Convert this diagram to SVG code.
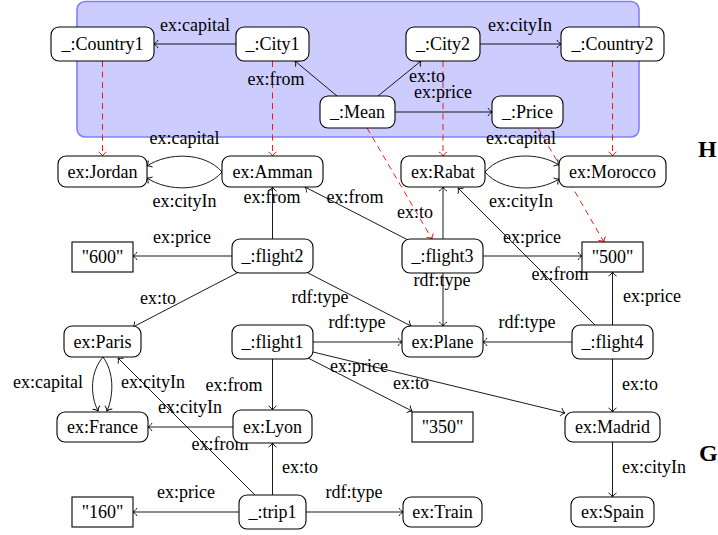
<svg xmlns="http://www.w3.org/2000/svg" width="718" height="535" viewBox="0 0 718 535">
  <style>
    .node rect { fill: #fff; stroke: #000; stroke-width: 1.1; }
    .node text, .lbl { font-family: "Liberation Serif", "Times New Roman", serif; font-size: 18px; fill: #000; text-anchor: middle; }
    .edge { fill: none; stroke: #000; stroke-width: 0.9; marker-end: url(#to); }
    .map { fill: none; stroke: #ff0000; stroke-width: 0.9; stroke-dasharray: 6 4.5; marker-end: url(#to-red); }
    .tag { font-family: "Liberation Serif", "Times New Roman", serif; font-size: 24px; font-weight: bold; fill: #000; }
  </style>
  <defs>
    <marker id="to" viewBox="-6 -6 8 12" refX="0" refY="0" markerWidth="8" markerHeight="12" markerUnits="userSpaceOnUse" orient="auto" overflow="visible">
      <path d="M-4,-4 C-3,-2 -1,-0.5 0,0 C-1,0.5 -3,2 -4,4" fill="none" stroke="#000" stroke-width="0.9"/>
    </marker>
    <marker id="to-red" viewBox="-6 -6 8 12" refX="0" refY="0" markerWidth="8" markerHeight="12" markerUnits="userSpaceOnUse" orient="auto" overflow="visible">
      <path d="M-4,-4 C-3,-2 -1,-0.5 0,0 C-1,0.5 -3,2 -4,4" fill="none" stroke="#ff0000" stroke-width="0.9"/>
    </marker>
  </defs>

  <!-- query pattern area H -->
  <rect id="pattern-area" x="77" y="1.5" width="562" height="135.5" rx="8" fill="#ccccff" stroke="#8080ff" stroke-width="1.6"/>
  <text class="tag" x="698" y="157">H</text>
  <text class="tag" x="699" y="461">G</text>

  <!-- connectors -->
  <g id="connectors">
    <!-- pattern edges -->
    <path class="edge" d="M236,44 L154,44"/>
    <path class="edge" d="M480,44 L561,44"/>
    <path class="edge" d="M337,96 L295,61"/>
    <path class="edge" d="M378,96 L421,61"/>
    <path class="edge" d="M395,112 L492,112"/>

    <!-- homomorphism mapping -->
    <path class="map" d="M102.5,61 L102.5,156"/>
    <path class="map" d="M272.5,61 L272.5,156"/>
    <path class="map" d="M443,61 L443,156"/>
    <path class="map" d="M612.5,61 L612.5,156"/>
    <path class="map" d="M367,128 L432,239"/>
    <path class="map" d="M538,128 L604,242"/>

    <!-- data graph edges -->
    <path class="edge" d="M222,172 C205,152 168,152 147,166"/>
    <path class="edge" d="M222,172 C205,192 168,192 147,178"/>
    <path class="edge" d="M485,172 C502,152 539,152 559,165"/>
    <path class="edge" d="M485,172 C502,192 539,192 559,179"/>
    <path class="edge" d="M272.5,239 L272.5,187"/>
    <path class="edge" d="M408,240 L305,187"/>
    <path class="edge" d="M443,239 L443,187"/>
    <path class="edge" d="M595,325 L458,188"/>
    <path class="edge" d="M483,256 L582,256"/>
    <path class="edge" d="M443,273 L443,326"/>
    <path class="edge" d="M612.5,325 L612.5,272"/>
    <path class="edge" d="M572,342 L483,342"/>
    <path class="edge" d="M612.5,359 L612.5,412"/>
    <path class="edge" d="M612.5,442 L612.5,497"/>
    <path class="edge" d="M232,256 L133,256"/>
    <path class="edge" d="M237,273 L133,327"/>
    <path class="edge" d="M308,273 L411,326"/>
    <path class="edge" d="M313,342 L402,342"/>
    <path class="edge" d="M313,352 L565,413"/>
    <path class="edge" d="M308,358 L412,411"/>
    <path class="edge" d="M272.5,359 L272.5,410"/>
    <path class="edge" d="M233,427 L148,427"/>
    <path class="edge" d="M103,357 C90,372 90,395 98,411"/>
    <path class="edge" d="M103,357 C114,372 114,395 107,411"/>
    <path class="edge" d="M255,495 L118,358"/>
    <path class="edge" d="M272.5,495 L272.5,443"/>
    <path class="edge" d="M239,512 L133,512"/>
    <path class="edge" d="M306,512 L403,512"/>

    <!-- edge labels -->
    <text class="lbl" x="195" y="31">ex:capital</text>
    <text class="lbl" x="520" y="31">ex:cityIn</text>
    <text class="lbl" x="276" y="85">ex:from</text>
    <text class="lbl" x="427" y="82">ex:to</text>
    <text class="lbl" x="443" y="98">ex:price</text>
    <text class="lbl" x="184.5" y="144">ex:capital</text>
    <text class="lbl" x="184.5" y="207">ex:cityIn</text>
    <text class="lbl" x="521" y="144">ex:capital</text>
    <text class="lbl" x="521" y="207">ex:cityIn</text>
    <text class="lbl" x="272" y="203">ex:from</text>
    <text class="lbl" x="355" y="203">ex:from</text>
    <text class="lbl" x="415" y="218">ex:to</text>
    <text class="lbl" x="182" y="243">ex:price</text>
    <text class="lbl" x="532" y="243">ex:price</text>
    <text class="lbl" x="560" y="280">ex:from</text>
    <text class="lbl" x="442" y="286">rdf:type</text>
    <text class="lbl" x="652" y="302">ex:price</text>
    <text class="lbl" x="158" y="304">ex:to</text>
    <text class="lbl" x="320" y="303">rdf:type</text>
    <text class="lbl" x="357" y="328">rdf:type</text>
    <text class="lbl" x="527" y="328">rdf:type</text>
    <text class="lbl" x="48" y="388">ex:capital</text>
    <text class="lbl" x="153" y="388">ex:cityIn</text>
    <text class="lbl" x="359" y="372">ex:price</text>
    <text class="lbl" x="411" y="389">ex:to</text>
    <text class="lbl" x="234" y="391">ex:from</text>
    <text class="lbl" x="640" y="390">ex:to</text>
    <text class="lbl" x="190" y="413">ex:cityIn</text>
    <text class="lbl" x="220" y="450">ex:from</text>
    <text class="lbl" x="300" y="473">ex:to</text>
    <text class="lbl" x="654" y="473">ex:cityIn</text>
    <text class="lbl" x="186" y="498">ex:price</text>
    <text class="lbl" x="354" y="498">rdf:type</text>
  </g>

  <!-- pattern nodes -->
  <g id="country1" class="node"><rect x="51" y="27" width="103" height="34" rx="8"/><text x="102.5" y="50">_:Country1</text></g>
  <g id="city1" class="node"><rect x="236" y="27" width="73" height="34" rx="8"/><text x="272.5" y="50">_:City1</text></g>
  <g id="city2" class="node"><rect x="406" y="27" width="74" height="34" rx="8"/><text x="443" y="50">_:City2</text></g>
  <g id="country2" class="node"><rect x="561" y="27" width="103" height="34" rx="8"/><text x="612.5" y="50">_:Country2</text></g>
  <g id="mean" class="node"><rect x="320" y="96" width="75" height="32" rx="8"/><text x="357.5" y="118">_:Mean</text></g>
  <g id="price" class="node"><rect x="492" y="96" width="71" height="32" rx="8"/><text x="527.5" y="118">_:Price</text></g>

  <!-- data graph nodes -->
  <g id="jordan" class="node"><rect x="58" y="156" width="89" height="31" rx="8"/><text x="102.5" y="177.5">ex:Jordan</text></g>
  <g id="amman" class="node"><rect x="222" y="156" width="101" height="31" rx="8"/><text x="272.5" y="177.5">ex:Amman</text></g>
  <g id="rabat" class="node"><rect x="401" y="156" width="84" height="31" rx="8"/><text x="443" y="177.5">ex:Rabat</text></g>
  <g id="morocco" class="node"><rect x="559" y="156" width="107" height="31" rx="8"/><text x="612.5" y="177.5">ex:Morocco</text></g>

  <g id="lit600" class="node"><rect x="72" y="242" width="61" height="30" rx="0"/><text x="102.5" y="263">"600"</text></g>
  <g id="flight2" class="node"><rect x="232" y="239" width="81" height="34" rx="8"/><text x="272.5" y="262">_:flight2</text></g>
  <g id="flight3" class="node"><rect x="402" y="239" width="81" height="34" rx="8"/><text x="442.5" y="262">_:flight3</text></g>
  <g id="lit500" class="node"><rect x="582" y="242" width="61" height="30" rx="0"/><text x="612.5" y="263">"500"</text></g>

  <g id="paris" class="node"><rect x="64" y="326" width="77" height="31" rx="8"/><text x="102.5" y="347.5">ex:Paris</text></g>
  <g id="flight1" class="node"><rect x="232" y="325" width="81" height="34" rx="8"/><text x="272.5" y="348">_:flight1</text></g>
  <g id="plane" class="node"><rect x="402" y="326" width="81" height="31" rx="8"/><text x="442.5" y="347.5">ex:Plane</text></g>
  <g id="flight4" class="node"><rect x="572" y="325" width="81" height="34" rx="8"/><text x="612.5" y="348">_:flight4</text></g>

  <g id="france" class="node"><rect x="57" y="412" width="91" height="30" rx="8"/><text x="102.5" y="433">ex:France</text></g>
  <g id="lyon" class="node"><rect x="233" y="410" width="79" height="33" rx="8"/><text x="272.5" y="432.5">ex:Lyon</text></g>
  <g id="lit350" class="node"><rect x="412" y="412" width="61" height="30" rx="0"/><text x="442.5" y="433">"350"</text></g>
  <g id="madrid" class="node"><rect x="565" y="412" width="95" height="30" rx="8"/><text x="612.5" y="433">ex:Madrid</text></g>

  <g id="lit160" class="node"><rect x="72" y="497" width="61" height="30" rx="0"/><text x="102.5" y="518">"160"</text></g>
  <g id="trip1" class="node"><rect x="239" y="495" width="67" height="34" rx="8"/><text x="272.5" y="518">_:trip1</text></g>
  <g id="train" class="node"><rect x="403" y="497" width="79" height="30" rx="8"/><text x="442.5" y="518">ex:Train</text></g>
  <g id="spain" class="node"><rect x="571" y="497" width="83" height="30" rx="8"/><text x="612.5" y="518">ex:Spain</text></g>
</svg>
